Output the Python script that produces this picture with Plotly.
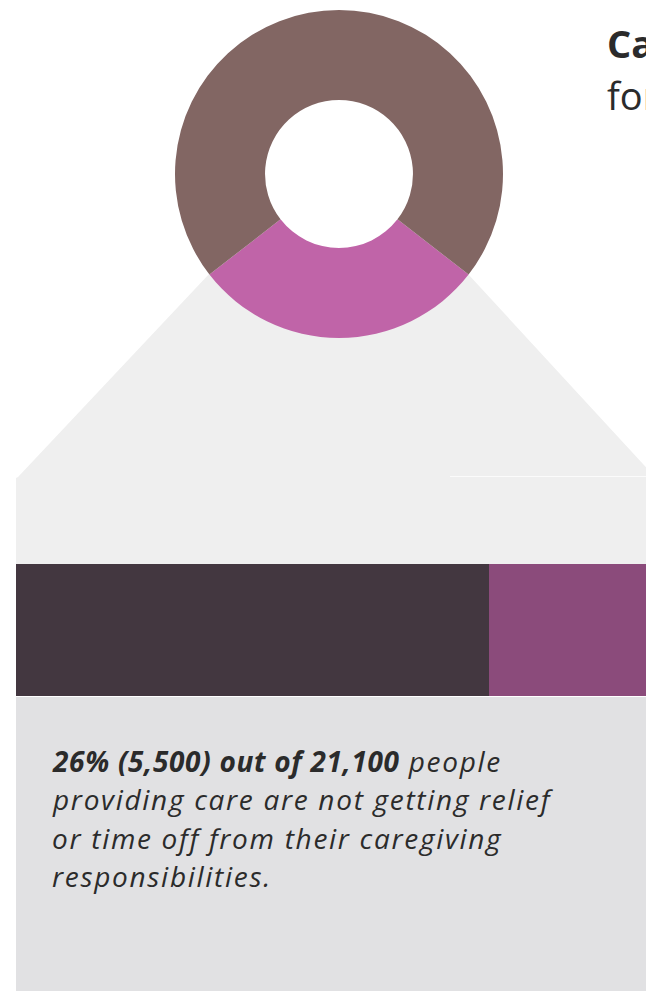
import plotly.graph_objects as go

W, H = 646, 991

# ---- data ----
donut_labels = ["Getting relief", "Not getting relief"]
donut_values = [71, 29]
bar_labels = ["Getting relief", "Not getting relief"]
bar_values = [74, 26]
title_lines = ["<b>Caregiver relief</b>", "for people providing care"]
note_lines = [
    "<b>26% (5,500) out of 21,100</b> people",
    "providing care are not getting relief",
    "or time off from their caregiving",
    "responsibilities.",
]

BROWN = "#826663"
PINK = "#c064a8"
DARK = "#433740"
PURPLE = "#8b4b7b"
LIGHT = "#efefef"
BOX = "#e1e1e3"
TEXT = "#2b2b2b"


def px(x):
    return x / W


def py(y):
    return 1 - y / H


fig = go.Figure()

# donut: slice for "not getting relief" centred at the bottom
pink_deg = donut_values[1] / sum(donut_values) * 360
fig.add_trace(go.Pie(
    labels=[donut_labels[1], donut_labels[0]],
    values=[donut_values[1], donut_values[0]],
    marker=dict(colors=[PINK, BROWN], line=dict(width=0)),
    hole=0.451,
    sort=False,
    direction="clockwise",
    rotation=180 - pink_deg / 2,
    textinfo="none",
    hoverinfo="skip",
    showlegend=False,
    domain=dict(x=[px(175), px(503)], y=[py(338), py(10)]),
))

# stacked bar
colors = [DARK, PURPLE]
for lab, val, col in zip(bar_labels, bar_values, colors):
    fig.add_trace(go.Bar(
        x=[val], y=[0], orientation="h", name=lab,
        marker=dict(color=col, line=dict(width=0)),
        width=1, hoverinfo="skip", showlegend=False,
    ))

scale = (655 - 16) / sum(bar_values)
fig.update_layout(
    barmode="stack",
    width=W, height=H,
    margin=dict(l=0, r=0, t=0, b=0),
    paper_bgcolor="white",
    plot_bgcolor="rgba(0,0,0,0)",
    xaxis=dict(domain=[0, 1], range=[-16 / scale, (W - 16) / scale],
               visible=False, fixedrange=True),
    yaxis=dict(domain=[py(696), py(564)], range=[-0.5, 0.5],
               visible=False, fixedrange=True),
)

# funnel background
pts = [(210, 273), (468, 274), (656, 478), (656, 564), (16, 564), (16, 478), (18, 477)]
path = "M " + " L ".join(f"{px(x)},{py(y)}" for x, y in pts) + " Z"
fig.add_shape(type="path", path=path, xref="paper", yref="paper",
              fillcolor=LIGHT, line=dict(width=0), layer="below")
fig.add_shape(type="line", xref="paper", yref="paper",
              x0=px(450), x1=px(660), y0=py(476.5), y1=py(476.5),
              line=dict(color="rgba(255,255,255,0.75)", width=1), layer="below")
# text box
fig.add_shape(type="rect", xref="paper", yref="paper",
              x0=px(16), x1=px(670), y0=py(1000), y1=py(697),
              fillcolor=BOX, line=dict(width=0), layer="below")

# title (cut off at right)
for txt, yb in zip(title_lines, [55, 107]):
    fig.add_annotation(text=txt, x=px(605), y=py(yb - 12), xref="paper", yref="paper",
                       xanchor="left", yanchor="middle", showarrow=False,
                       font=dict(family="Open Sans", size=38, color=TEXT))

# note, one annotation per line
for txt, yb in zip(note_lines, [770, 808, 846.5, 885]):
    fig.add_annotation(text="<i>" + txt + "</i>", x=px(51), y=py(yb - 9),
                       xref="paper", yref="paper", xanchor="left", yanchor="middle",
                       align="left", showarrow=False, borderpad=0,
                       font=dict(family="Open Sans", size=28, color=TEXT))

post = """
document.body.style.margin = '0';
var gd = document.getElementById('{plot_id}');
gd.querySelectorAll('g.annotation').forEach(function (g) {
  var i = +g.getAttribute('data-index');
  if (i >= 2) {
    g.querySelectorAll('text').forEach(function (t) { t.style.letterSpacing = '1.7px'; });
    g.querySelectorAll('tspan').forEach(function (s) {
      var st = s.getAttribute('style') || '';
      if (st.indexOf('bold') >= 0) { s.style.letterSpacing = '0.7px'; }
    });
  }
});
"""

fig.write_html("out.html", config={"displayModeBar": False}, post_script=post)
